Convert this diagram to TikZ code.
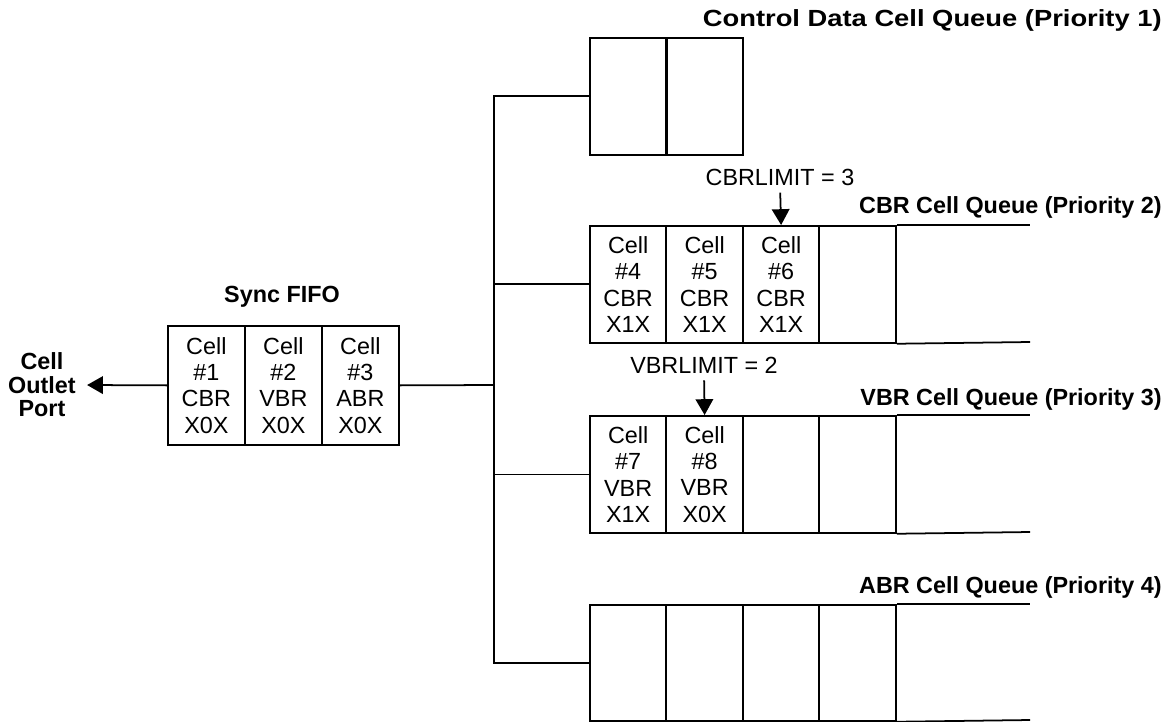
\documentclass[tikz,border=0pt]{standalone}
\usepackage{fontspec}
\usepackage{graphicx}
\setmainfont{Liberation Sans}
\usetikzlibrary{arrows.meta}

\begin{document}
\begin{tikzpicture}[x=0.02cm, y=-0.02cm,
        cellbox/.style={rectangle, draw, line width=1pt, minimum width=1.53cm, minimum height=2.34cm, anchor=north west, inner sep=0pt, align=center, font=\fontsize{13.3}{15}\selectfont},
        fifocell/.style={cellbox, minimum width=1.54cm, minimum height=2.38cm},
        qtitle/.style={anchor=base east, inner sep=0pt, font=\fontsize{13.3}{15}\selectfont\bfseries},
        limit/.style={anchor=base, inner sep=0pt, font=\fontsize{13.3}{15}\selectfont},
        wire/.style={line width=1pt},
        ptr/.style={line width=1pt, -{Triangle[length=9pt, width=10pt]}}
    ]
        \useasboundingbox (0,0) rectangle (1169,721);

        % Sync FIFO
        \node[fifocell] (fifo1) at (167,325) {Cell\\\#1\\CBR\\X0X};
        \node[fifocell] (fifo2) at (244,325) {Cell\\\#2\\VBR\\X0X};
        \node[fifocell] (fifo3) at (321,325) {Cell\\\#3\\ABR\\X0X};
        \node[anchor=base, inner sep=0pt, font=\fontsize{13.3}{15}\selectfont\bfseries] (fifolbl) at (282,302) {Sync FIFO};

        % Outlet
        \node[align=center, inner xsep=0.22cm, font=\fontsize{13.3}{13.3}\selectfont\bfseries] (port) at (42,385) {Cell\\Outlet\\Port};
        \draw[ptr] (fifo1.west) -- (port.east);

        % Control data queue
        \node[cellbox] (ctl1) at (589,37) {};
        \node[cellbox] (ctl2) at (666,37) {};
        \node[qtitle] (ctltitle) at (1162,26) {\scalebox{1.17}[1]{Control Data Cell Queue (Priority 1)}};

        % CBR queue
        \node[cellbox] (cbr1) at (589,225) {Cell\\\#4\\CBR\\X1X};
        \node[cellbox] (cbr2) at (665.5,225) {Cell\\\#5\\CBR\\X1X};
        \node[cellbox] (cbr3) at (742,225) {Cell\\\#6\\CBR\\X1X};
        \node[cellbox] (cbr4) at (818.5,225) {};
        \coordinate (cbrT) at (1030,225);
        \coordinate (cbrB) at (1030,342);
        \draw[wire] (cbr4.north east) -- (cbrT);
        \draw[wire] (cbr4.south east) -- (cbrB);
        \node[qtitle] (cbrtitle) at (1162,213) {CBR Cell Queue (Priority 2)};
        \node[limit] (cbrlim) at (780,185) {CBRLIMIT = 3};
        \draw[ptr, shorten <=4pt] (cbrlim.south) -- (cbr3.north);

        % VBR queue
        \node[cellbox] (vbr1) at (589,415) {Cell\\\#7\\VBR\\X1X};
        \node[cellbox] (vbr2) at (665.5,415) {Cell\\\#8\\VBR\\X0X};
        \node[cellbox] (vbr3) at (742,415) {};
        \node[cellbox] (vbr4) at (818.5,415) {};
        \coordinate (vbrT) at (1030,415);
        \coordinate (vbrB) at (1030,532);
        \draw[wire] (vbr4.north east) -- (vbrT);
        \draw[wire] (vbr4.south east) -- (vbrB);
        \node[qtitle] (vbrtitle) at (1162,405) {VBR Cell Queue (Priority 3)};
        \node[limit] (vbrlim) at (704,373) {VBRLIMIT = 2};
        \draw[ptr, shorten <=4pt] (vbrlim.south) -- (vbr2.north);

        % ABR queue
        \node[cellbox, minimum height=2.32cm] (abr1) at (589,604) {};
        \node[cellbox, minimum height=2.32cm] (abr2) at (665.5,604) {};
        \node[cellbox, minimum height=2.32cm] (abr3) at (742,604) {};
        \node[cellbox, minimum height=2.32cm] (abr4) at (818.5,604) {};
        \coordinate (abrT) at (1030,604);
        \coordinate (abrB) at (1030,720);
        \draw[wire] (abr4.north east) -- (abrT);
        \draw[wire] (abr4.south east) -- (abrB);
        \node[qtitle] (abrtitle) at (1162,593) {ABR Cell Queue (Priority 4)};

        % Connections
        \coordinate (trunk) at (494,385);
        \draw[wire] (fifo3.east) -- (trunk);
        \draw[wire] (ctl1.west) -| (trunk) |- (abr1.west);
        \draw[wire] (cbr1.west) -| (trunk);
        \draw[wire] (vbr1.west) -| (trunk);
    \end{tikzpicture}
\end{document}
